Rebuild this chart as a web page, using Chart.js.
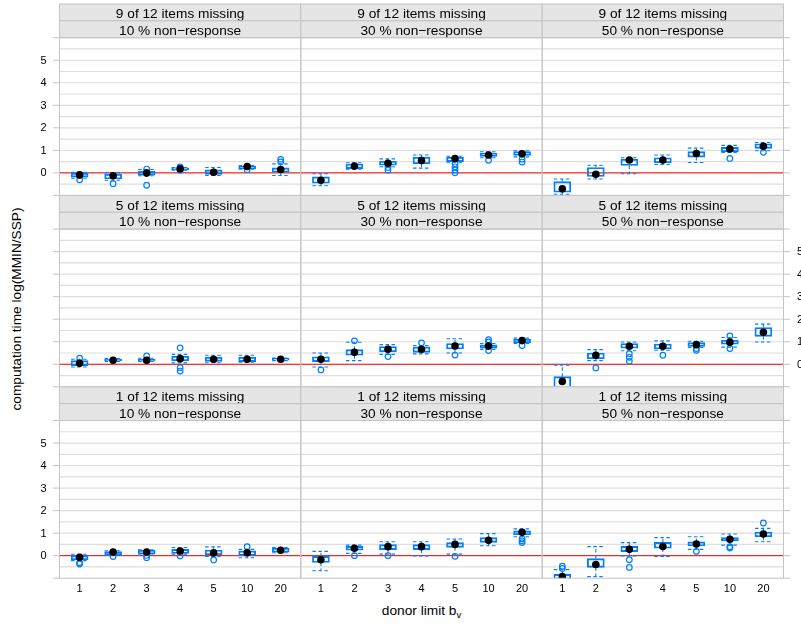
<!DOCTYPE html>
<html>
<head>
<meta charset="utf-8">
<script src="https://cdn.jsdelivr.net/npm/chart.js@4"></script>
<style>
  html, body { margin: 0; padding: 0; background: #ffffff; }
  #wrap { position: relative; width: 801px; height: 624px; overflow: hidden; }
  #wrap canvas { position: absolute; left: 0; top: 0; }
  .title {
    position: absolute; white-space: nowrap; line-height: 1;
    font-family: "Liberation Sans", Arial, Helvetica, sans-serif;
    font-size: 13.7px; color: #000;
  }
  #xTitle { left: 421.5px; top: 611.5px; transform: translate(-50%, -50%); }
  #xTitle sub { font-size: 9.5px; vertical-align: -3px; line-height: 1; }
  #yTitle { left: 17px; top: 309px; transform: translate(-50%, -50%) rotate(-90deg); }
</style>
</head>
<body>
<div id="wrap">
  <div class="title" id="xTitle">donor limit b<sub>v</sub></div>
  <div class="title" id="yTitle">computation time log(MMIN/SSP)</div>
</div>
<script>
// ---- categories and labels ----
const donorLimits = ['1', '2', '3', '4', '5', '10', '20'];
const itemsMissing = ['9 of 12 items missing', '5 of 12 items missing', '1 of 12 items missing'];
const nonResponse = ['10 % non\u2212response', '30 % non\u2212response', '50 % non\u2212response'];
const yTicks = [0, 1, 2, 3, 4, 5];
const yTickMarks = [-1, 0, 1, 2, 3, 4, 5, 6];

// ---- box statistics, one row per panel ----
// panel order: rows = items missing (9, 5, 1), columns = non-response (10, 30, 50 %)
const whiskerLow = [
  [-0.24, -0.33, -0.13, 0.12, -0.12, 0.16, -0.12],
  [-0.57, 0.16, 0.27, 0.21, 0.47, 0.67, 0.71],
  [-0.95, -0.27, -0.04, 0.37, 0.46, 0.91, 0.98],
  [-0.12, 0.13, 0.12, 0.06, 0.07, 0.09, 0.16],
  [-0.12, 0.16, 0.44, 0.46, 0.50, 0.66, 0.92],
  [-1.25, 0.16, 0.60, 0.62, 0.75, 0.76, 0.99],
  [-0.22, 0.01, 0.03, 0.07, -0.04, -0.09, 0.13],
  [-0.67, 0.10, 0.07, -0.01, 0.07, 0.44, 0.84],
  [-1.10, -0.93, -0.01, -0.04, 0.28, 0.47, 0.62]
];
const quartile1 = [
  [-0.19, -0.27, -0.10, 0.13, -0.07, 0.18, 0.03],
  [-0.46, 0.19, 0.34, 0.40, 0.50, 0.73, 0.77],
  [-0.86, -0.16, 0.33, 0.45, 0.70, 0.94, 1.09],
  [-0.06, 0.15, 0.14, 0.15, 0.13, 0.12, 0.18],
  [0.12, 0.40, 0.55, 0.53, 0.68, 0.71, 0.95],
  [-1.08, 0.24, 0.71, 0.68, 0.79, 0.89, 1.24],
  [-0.18, 0.03, 0.07, 0.10, 0.04, 0.01, 0.15],
  [-0.30, 0.24, 0.27, 0.27, 0.37, 0.59, 0.93],
  [-1.05, -0.52, 0.18, 0.33, 0.43, 0.65, 0.84]
];
const medians = [
  [-0.09, -0.13, -0.01, 0.18, 0.03, 0.28, 0.15],
  [-0.33, 0.30, 0.43, 0.55, 0.64, 0.79, 0.85],
  [-0.71, -0.06, 0.57, 0.57, 0.86, 1.06, 1.18],
  [0.04, 0.18, 0.18, 0.25, 0.22, 0.22, 0.22],
  [0.22, 0.53, 0.67, 0.67, 0.81, 0.81, 1.05],
  [-0.76, 0.40, 0.80, 0.80, 0.87, 0.98, 1.42],
  [-0.07, 0.16, 0.16, 0.21, 0.13, 0.13, 0.24],
  [-0.18, 0.33, 0.40, 0.40, 0.50, 0.68, 1.04],
  [-0.93, -0.39, 0.28, 0.41, 0.52, 0.73, 0.96]
];
const quartile3 = [
  [-0.02, -0.06, 0.07, 0.22, 0.13, 0.30, 0.22],
  [-0.18, 0.39, 0.52, 0.70, 0.70, 0.88, 0.94],
  [-0.39, 0.24, 0.61, 0.67, 0.94, 1.13, 1.29],
  [0.16, 0.22, 0.22, 0.36, 0.31, 0.31, 0.26],
  [0.33, 0.65, 0.79, 0.77, 0.92, 0.86, 1.11],
  [-0.55, 0.50, 0.92, 0.90, 0.96, 1.07, 1.63],
  [0.00, 0.18, 0.24, 0.28, 0.25, 0.21, 0.33],
  [-0.03, 0.41, 0.49, 0.49, 0.58, 0.80, 1.10],
  [-0.83, -0.13, 0.41, 0.59, 0.61, 0.80, 1.05]
];
const whiskerHigh = [
  [0.03, 0.01, 0.15, 0.24, 0.24, 0.32, 0.40],
  [-0.04, 0.45, 0.62, 0.79, 0.74, 0.94, 0.98],
  [-0.27, 0.34, 0.67, 0.79, 1.10, 1.22, 1.35],
  [0.22, 0.25, 0.27, 0.44, 0.40, 0.40, 0.28],
  [0.50, 0.98, 0.87, 0.83, 1.13, 0.92, 1.16],
  [-0.04, 0.65, 0.99, 1.04, 1.02, 1.19, 1.78],
  [0.06, 0.22, 0.26, 0.36, 0.39, 0.28, 0.36],
  [0.19, 0.47, 0.62, 0.62, 0.74, 0.98, 1.19],
  [-0.62, 0.40, 0.58, 0.80, 0.84, 0.96, 1.21]
];
const outliers = [
  [[-0.31], [-0.48], [0.17, -0.55], [0.26, 0.12], [], [0.14], [0.60, 0.49]],
  [[], [], [0.24, 0.12], [], [0.40, 0.27, 0.13, 0.0], [0.56], [0.61, 0.48]],
  [[], [], [], [], [], [0.64], [0.91]],
  [[0.27], [], [0.37], [0.73, -0.15, -0.30], [], [], []],
  [[-0.25], [1.04], [0.34], [0.95], [0.41], [1.09, 0.99, 0.61], [0.83]],
  [[], [-0.16], [0.47, 0.31, 0.13], [0.40], [0.70, 0.62], [1.26, 0.70], []],
  [[-0.31, -0.37], [-0.04], [0.01, -0.09], [-0.01], [-0.19], [0.40], []],
  [[], [0.0], [0.0], [], [-0.03], [], [0.75, 0.66, 0.58]],
  [[-0.47, -0.57], [], [-0.18, -0.52], [], [0.19], [0.40, 0.34], [1.45]]
];

// ---- page layout of the 3 x 3 panel grid ----
const W = 801, H = 624;
const colEdges = [59.5, 300.8, 542.2, 783.5];
const rowTops = [4, 195.4, 386.8];
const rowH = 191.4;
const stripH = 16.85;

const BLUE = '#0080ff';
const FRAME = '#c4c4c4';
const FONT = '"Liberation Sans", Arial, Helvetica, sans-serif';

const panelPlugin = {
  id: 'panelFrame',
  beforeDatasetsDraw(chart, args, opts) {
    const ctx = chart.ctx, a = chart.chartArea;
    const xs = chart.scales.x, ys = chart.scales.y;
    const p = opts.panel;
    ctx.save();
    // reference grid every half unit
    ctx.strokeStyle = '#dedede';
    ctx.lineWidth = 1.2;
    for (let v = -0.5; v < 6; v += 0.5) {
      const y = ys.getPixelForValue(v);
      ctx.beginPath(); ctx.moveTo(a.left, y); ctx.lineTo(a.right, y); ctx.stroke();
    }
    // zero reference line
    ctx.strokeStyle = '#ff0000';
    ctx.lineWidth = 1;
    const y0 = ys.getPixelForValue(0);
    ctx.beginPath(); ctx.moveTo(a.left, y0); ctx.lineTo(a.right, y0); ctx.stroke();

    // dashed whiskers with dashed caps
    ctx.beginPath(); ctx.rect(a.left, a.top, a.right - a.left, a.bottom - a.top); ctx.clip();
    ctx.strokeStyle = BLUE;
    ctx.lineWidth = 1.1;
    ctx.setLineDash([3.5, 2.5]);
    const half = 8.5;
    donorLimits.forEach((lab, k) => {
      const x = xs.getPixelForValue(k + 1);
      const yLo = ys.getPixelForValue(whiskerLow[p][k]);
      const yHi = ys.getPixelForValue(whiskerHigh[p][k]);
      const yQ1 = ys.getPixelForValue(quartile1[p][k]);
      const yQ3 = ys.getPixelForValue(quartile3[p][k]);
      ctx.beginPath();
      ctx.moveTo(x, yQ3); ctx.lineTo(x, yHi);
      ctx.moveTo(x, yQ1); ctx.lineTo(x, yLo);
      ctx.stroke();
      ctx.beginPath();
      ctx.moveTo(x - half, yHi); ctx.lineTo(x + half, yHi);
      ctx.moveTo(x - half, yLo); ctx.lineTo(x + half, yLo);
      ctx.stroke();
    });
    ctx.restore();
  },
  afterDraw(chart, args, opts) {
    const ctx = chart.ctx, a = chart.chartArea;
    const xs = chart.scales.x, ys = chart.scales.y;
    const r = opts.row, c = opts.col;
    ctx.save();
    // strips
    const top = a.top - 2 * stripH;
    const stripText = [itemsMissing[r], nonResponse[c]];
    ctx.font = '13.7px ' + FONT;
    ctx.textAlign = 'center';
    ctx.textBaseline = 'alphabetic';
    for (let s = 0; s < 2; s++) {
      const sy = top + s * stripH;
      ctx.fillStyle = '#e5e5e5';
      ctx.fillRect(a.left, sy, a.right - a.left, stripH);
      ctx.strokeStyle = FRAME;
      ctx.lineWidth = 1;
      ctx.strokeRect(a.left, sy, a.right - a.left, stripH);
      ctx.fillStyle = '#000';
      ctx.fillText(stripText[s], (a.left + a.right) / 2, sy + 14.2);
    }
    // panel frame
    ctx.strokeStyle = FRAME;
    ctx.lineWidth = 1;
    ctx.strokeRect(a.left, a.top, a.right - a.left, a.bottom - a.top);

    // y tick marks on the outer sides
    ctx.font = '11px ' + FONT;
    ctx.fillStyle = '#000';
    ctx.textBaseline = 'middle';
    if (c === 0) {
      yTickMarks.forEach(v => {
        const y = ys.getPixelForValue(v);
        ctx.beginPath(); ctx.moveTo(a.left - 6.5, y); ctx.lineTo(a.left, y); ctx.stroke();
      });
      if (r !== 1) {
        ctx.textAlign = 'right';
        yTicks.forEach(v => ctx.fillText(String(v), a.left - 13, ys.getPixelForValue(v) + 0.5));
      }
    }
    if (c === 2) {
      yTickMarks.forEach(v => {
        const y = ys.getPixelForValue(v);
        ctx.beginPath(); ctx.moveTo(a.right, y); ctx.lineTo(a.right + 6.5, y); ctx.stroke();
      });
      if (r === 1) {
        ctx.textAlign = 'left';
        yTicks.forEach(v => ctx.fillText(String(v), a.right + 13.5, ys.getPixelForValue(v) + 0.5));
      }
    }
    // x tick labels under the bottom row
    if (r === 2) {
      ctx.textAlign = 'center';
      donorLimits.forEach((lab, k) => ctx.fillText(lab, xs.getPixelForValue(k + 1), a.bottom + 11));
    }
    ctx.restore();
  }
};

function panelConfig(p) {
  const r = Math.floor(p / 3), c = p % 3;
  const left = colEdges[c], right = colEdges[c + 1];
  const top = rowTops[r] + 2 * stripH, bottom = rowTops[r] + rowH;

  const boxes = donorLimits.map((lab, k) => ({ x: k + 1, y: [quartile1[p][k], quartile3[p][k]] }));
  const outPts = [];
  donorLimits.forEach((lab, k) => outliers[p][k].forEach(v => outPts.push({ x: k + 1, y: v })));
  const medPts = donorLimits.map((lab, k) => ({ x: k + 1, y: medians[p][k] }));

  return {
    type: 'bar',
    data: {
      datasets: [
        {
          type: 'bar', data: boxes, order: 3,
          backgroundColor: 'rgba(0,0,0,0)', borderColor: BLUE, borderWidth: 1.2,
          borderSkipped: false, barThickness: 17
        },
        {
          type: 'scatter', data: outPts, order: 2,
          pointStyle: 'circle', pointRadius: 2.8, pointBorderWidth: 1.2,
          pointBorderColor: BLUE, pointBackgroundColor: 'rgba(0,0,0,0)'
        },
        {
          type: 'scatter', data: medPts, order: 1,
          pointStyle: 'circle', pointRadius: 3.8, pointBorderWidth: 0,
          pointBorderColor: '#000', pointBackgroundColor: '#000'
        }
      ]
    },
    options: {
      responsive: false,
      animation: false,
      devicePixelRatio: 1,
      layout: { padding: { left: left, right: W - right, top: top, bottom: H - bottom } },
      scales: {
        x: { type: 'linear', min: 0.4, max: 7.6, offset: false, display: false },
        y: { type: 'linear', min: -1, max: 6, display: false }
      },
      plugins: {
        legend: { display: false },
        tooltip: { enabled: false },
        panelFrame: { panel: p, row: r, col: c }
      }
    },
    plugins: [panelPlugin]
  };
}

const wrap = document.getElementById('wrap');
for (let p = 0; p < 9; p++) {
  const cv = document.createElement('canvas');
  cv.width = W; cv.height = H;
  cv.style.width = W + 'px'; cv.style.height = H + 'px';
  wrap.appendChild(cv);
  new Chart(cv, panelConfig(p));
}
</script>
</body>
</html>
